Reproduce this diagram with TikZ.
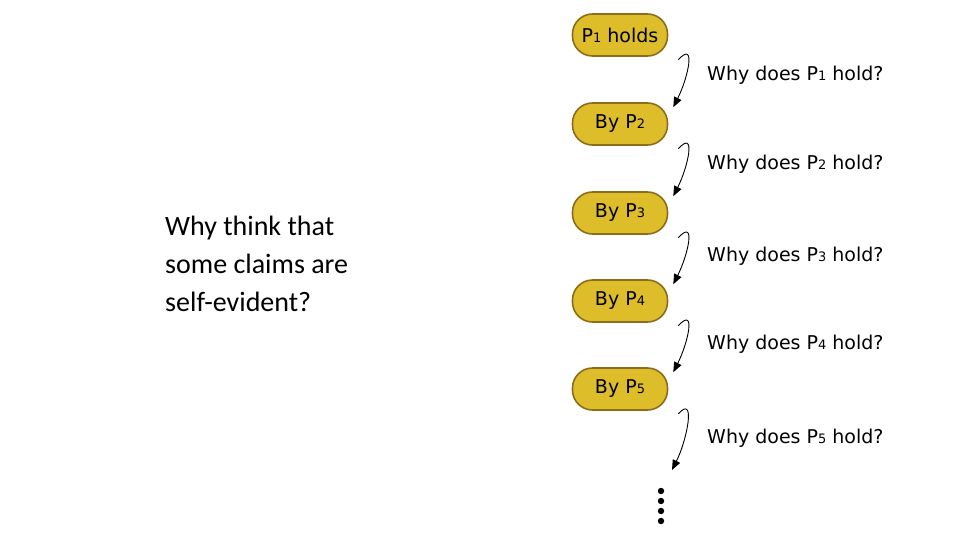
\documentclass[tikz,border=0pt]{standalone}
\usepackage{fontspec}
\setmainfont{DejaVu Sans}
\newfontfamily\calib{Carlito}
\usetikzlibrary{arrows.meta}
\definecolor{gold}{HTML}{DDBD29}
\definecolor{goldedge}{HTML}{8E6C1A}
\newcommand{\sbs}[1]{{\fontsize{13}{13}\selectfont #1}}
\tikzset{pill/.style={draw=goldedge,line width=1.6pt,fill=gold,rounded corners=20pt,minimum width=95pt,minimum height=42pt,inner sep=0pt,font=\fontsize{19}{19}\selectfont},
 why/.style={-{Triangle[length=10pt,width=8pt]},line width=0.9pt},
 lab/.style={anchor=west,font=\fontsize{19}{19}\selectfont,inner sep=0pt}}
\begin{document}
\begin{tikzpicture}[x=1pt,y=-1pt]
\useasboundingbox (0,0) rectangle (960,540);
\node[pill] (n1) at (620,35) {P\sbs{1} holds};
\node[pill] (n2) at (620,124) {By P\sbs{2}};
\node[pill] (n3) at (620,213) {By P\sbs{3}};
\node[pill] (n4) at (620,301) {By P\sbs{4}};
\node[pill] (n5) at (620,389) {By P\sbs{5}};
\coordinate (e) at (672,470);
\foreach \a/\b/\y/\k in {n1/n2/75/1,n2/n3/164/2,n3/n4/256/3,n4/n5/344/4}{
  \draw[why] ([xshift=10pt,yshift=-3pt]\a.south east) .. controls +(18,-20) and +(15,-30) .. ([xshift=5pt,yshift=-5pt]\b.north east);
  \node[lab] at (707,\y) {Why does P\sbs{\k} hold?};
}
\draw[why] ([xshift=10pt,yshift=-3pt]n5.south east) .. controls +(18,-20) and +(15,-30) .. (e);
\node[lab] at (707,438) {Why does P\sbs{5} hold?};
\foreach \y in {491,501,511,521}{\fill (661,\y) circle (3.2pt);}
\node[anchor=north west,align=left,inner sep=0pt,font=\calib\fontsize{28}{38}\selectfont] (q) at (165,216) {Why think that\\some claims are\\self-evident?};
\end{tikzpicture}
\end{document}
